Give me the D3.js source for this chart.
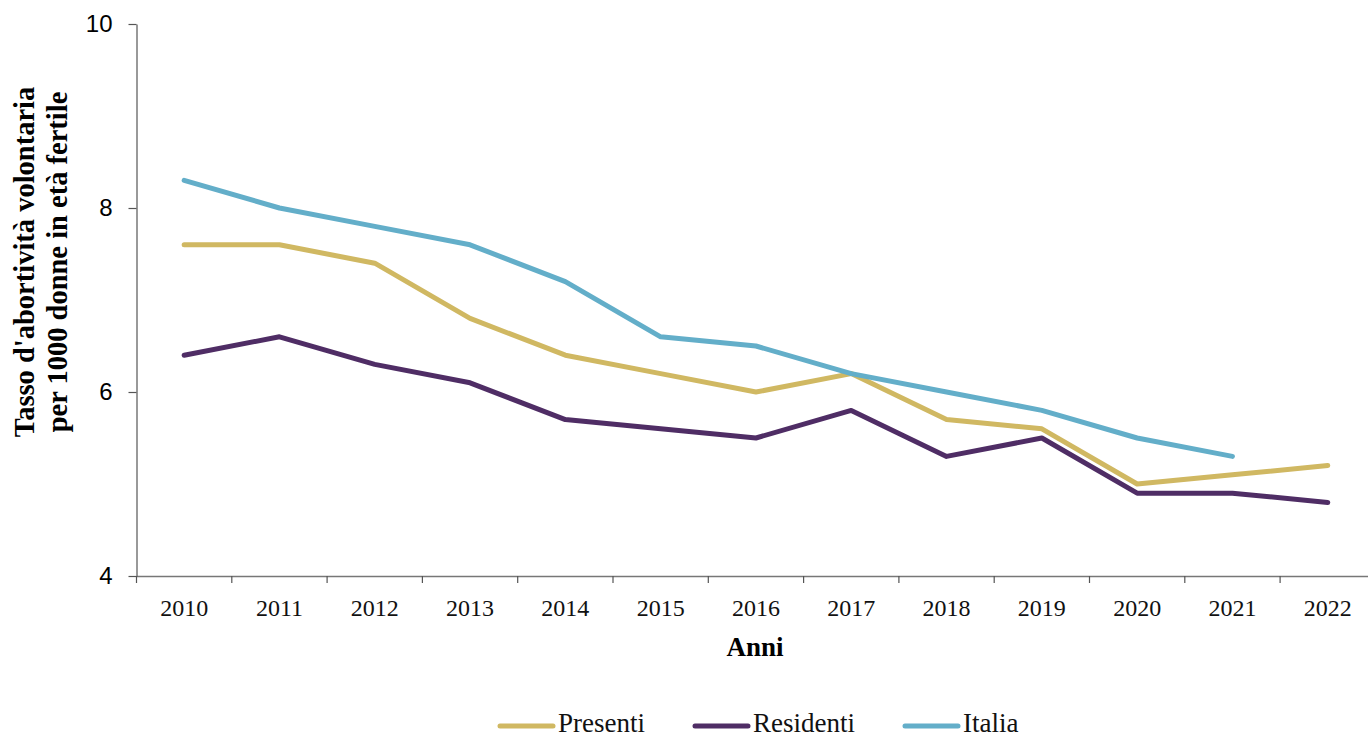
<!DOCTYPE html>
<html>
<head>
<meta charset="utf-8">
<script src="https://cdn.jsdelivr.net/npm/d3@7"></script>
<style>
  body { margin: 0; background: #fff; }
  svg { display: block; }
</style>
</head>
<body>
<div id="graph"></div>
<script>
const years = ["2010", "2011", "2012", "2013", "2014", "2015", "2016", "2017", "2018", "2019", "2020", "2021", "2022"]
const presenti = [7.6, 7.6, 7.4, 6.8, 6.4, 6.2, 6.0, 6.2, 5.7, 5.6, 5.0, 5.1, 5.2]
const residenti = [6.4, 6.6, 6.3, 6.1, 5.7, 5.6, 5.5, 5.8, 5.3, 5.5, 4.9, 4.9, 4.8]
const italia = [8.3, 8.0, 7.8, 7.6, 7.2, 6.6, 6.5, 6.2, 6.0, 5.8, 5.5, 5.3, null]
const seriesNames = ["Presenti", "Residenti", "Italia"]
const seriesColors = ["#d0b862", "#4f2d65", "#63aec9"]
const yTicks = [4, 6, 8, 10]

const W = 1368, H = 738
const MARGIN = { LEFT: 136.5, TOP: 24, BOTTOM: 162 }

const svg = d3.select("#graph").append("svg")
    .attr("width", W)
    .attr("height", H)

const x = d3.scaleBand()
    .domain(years)
    .range([MARGIN.LEFT, MARGIN.LEFT + 13 * 95.3])

const y = d3.scaleLinear()
    .domain([4, 10])
    .range([H - MARGIN.BOTTOM, MARGIN.TOP])

// X axis
const xAxis = svg.append("g")
    .attr("transform", `translate(0, ${y(4)})`)
    .call(d3.axisBottom(x).tickSize(0))
xAxis.select(".domain").attr("stroke", "#777").attr("stroke-width", 1.3)
xAxis.selectAll("text")
    .attr("y", 40)
    .attr("dy", null)
    .attr("font-family", "'Liberation Serif', serif")
    .attr("font-size", "24px")
    .attr("fill", "#111")
// tick marks at band boundaries
xAxis.selectAll(".bnd")
    .data(years)
    .enter().append("line")
    .attr("x1", d => x(d))
    .attr("x2", d => x(d))
    .attr("y1", 0)
    .attr("y2", 7)
    .attr("stroke", "#555")
    .attr("stroke-width", 1.2)

// Y axis
const yAxis = svg.append("g")
    .attr("transform", `translate(${MARGIN.LEFT}, 0)`)
    .call(d3.axisLeft(y).tickValues(yTicks).tickFormat(d3.format("d"))
        .tickSize(8).tickSizeOuter(0).tickPadding(16))
yAxis.select(".domain").attr("stroke", "#555").attr("stroke-width", 1.2)
yAxis.selectAll(".tick line").attr("stroke", "#555").attr("stroke-width", 1.2)
yAxis.selectAll("text")
    .attr("font-family", "'Liberation Sans', Arial, sans-serif")
    .attr("font-size", "24px")
    .attr("fill", "#000")

// Lines
const allSeries = [presenti, residenti, italia]
const line = d3.line()
    .defined(d => d != null)
    .x((d, i) => x(years[i]) + x.bandwidth() / 2)
    .y(d => y(d))

svg.selectAll(".series")
    .data(allSeries)
    .enter().append("path")
    .attr("d", d => line(d))
    .attr("fill", "none")
    .attr("stroke", (d, i) => seriesColors[i])
    .attr("stroke-width", 5)
    .attr("stroke-linejoin", "round")
    .attr("stroke-linecap", "round")

// Labels
svg.append("text")
    .attr("x", 755)
    .attr("y", 656)
    .attr("text-anchor", "middle")
    .attr("font-family", "'Liberation Serif', serif")
    .attr("font-weight", "bold")
    .attr("font-size", "27px")
    .text("Anni")

const yLabel = svg.append("text")
    .attr("transform", "translate(34, 262) rotate(-90)")
    .attr("text-anchor", "middle")
    .attr("font-family", "'Liberation Serif', serif")
    .attr("font-weight", "bold")
    .attr("font-size", "28.5px")
yLabel.append("tspan").attr("x", 0).attr("y", 0).text("Tasso d'abortività volontaria")
yLabel.append("tspan").attr("x", 0).attr("y", 33).text("per 1000 donne in età fertile")

// Legend
const legendX = [498, 693, 903]
const legend = svg.selectAll(".legend")
    .data(seriesNames)
    .enter().append("g")
    .attr("transform", (d, i) => `translate(${legendX[i]}, 726)`)
legend.append("line")
    .attr("x1", 2)
    .attr("x2", 55)
    .attr("stroke", (d, i) => seriesColors[i])
    .attr("stroke-width", 5)
    .attr("stroke-linecap", "round")
legend.append("text")
    .attr("x", 60)
    .attr("y", 6)
    .attr("font-family", "'Liberation Serif', serif")
    .attr("font-size", "27px")
    .attr("fill", "#111")
    .text(d => d)
</script>
</body>
</html>
